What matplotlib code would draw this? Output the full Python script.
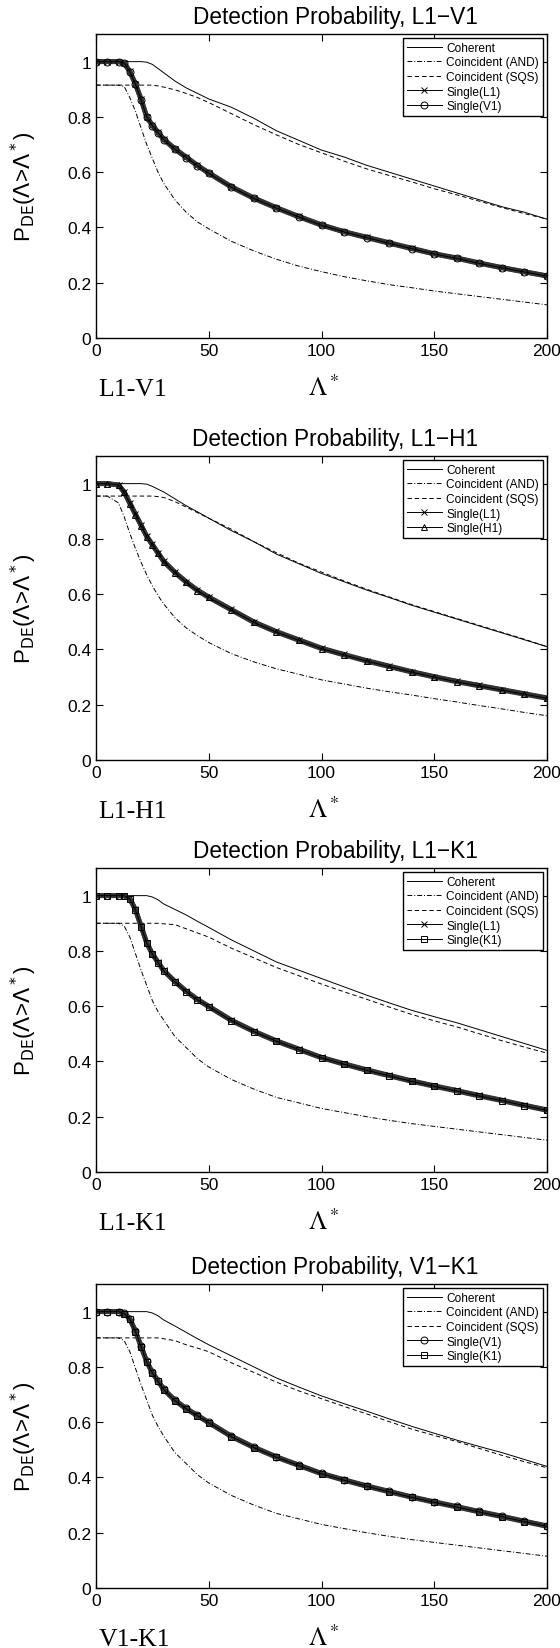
import matplotlib
matplotlib.use('Agg')
import matplotlib.pyplot as plt

plt.rcParams['font.family'] = ['Liberation Sans', 'DejaVu Sans']

# threshold Lambda* (shared x grid for all curves)
lam = [0, 5, 10, 12.5, 15, 17.5, 20, 22.5, 25, 27.5, 30, 35, 40, 45, 50,
       60, 70, 80, 90, 100, 110, 120, 130, 140, 150, 160, 170, 180, 190, 200]

# L1-V1
lv_coh = [1, 1, 1, 1, 1, 1, 1, .998, .99, .975, .96, .93, .905, .885, .865,
          .835, .795, .75, .715, .68, .655, .625, .6, .575, .55, .525, .5, .475, .455, .43]
lv_and = [.915, .915, .915, .91, .87, .82, .76, .70, .65, .60, .56, .50, .455, .42, .395,
          .35, .315, .285, .26, .24, .222, .207, .193, .182, .17, .16, .15, .14, .13, .12]
lv_sqs = [.915, .915, .915, .915, .915, .915, .915, .915, .915, .912, .908, .898, .885, .87, .852,
          .812, .772, .735, .70, .67, .64, .612, .588, .565, .54, .518, .495, .472, .45, .43]
lv_l1 = [1, 1, 1, .995, .965, .92, .865, .80, .77, .745, .72, .685, .655, .625, .598,
         .548, .507, .472, .44, .41, .385, .365, .345, .325, .305, .29, .272, .255, .24, .225]
lv_v1 = [1, 1, 1, .995, .963, .918, .862, .80, .768, .743, .718, .683, .653, .623, .596,
         .546, .505, .47, .438, .408, .384, .363, .343, .323, .304, .288, .27, .254, .239, .224]

# L1-H1
lh_coh = [1, 1, 1, 1, 1, 1, 1, .998, .99, .98, .97, .945, .92, .898, .875,
          .83, .79, .745, .71, .675, .645, .615, .588, .56, .535, .51, .485, .46, .435, .41]
lh_and = [.955, .955, .93, .88, .82, .765, .715, .67, .63, .595, .565, .515, .478, .45, .425,
          .385, .355, .33, .31, .29, .275, .26, .247, .235, .222, .21, .197, .185, .172, .16]
lh_sqs = [.955, .955, .955, .955, .955, .955, .955, .955, .955, .953, .95, .935, .915, .895, .875,
          .835, .79, .75, .712, .68, .648, .618, .59, .562, .537, .512, .487, .462, .437, .41]
lh_l1 = [1, 1, .995, .97, .93, .89, .85, .81, .78, .75, .72, .68, .645, .615, .59,
         .545, .50, .465, .435, .405, .382, .36, .34, .32, .302, .285, .27, .255, .24, .225]
lh_h1 = [1, 1, .995, .968, .928, .888, .848, .808, .778, .748, .718, .678, .643, .613, .588,
         .543, .498, .463, .433, .403, .38, .358, .338, .318, .3, .283, .268, .253, .238, .223]

# L1-K1
lk_coh = [1, 1, 1, 1, 1, 1, 1, 1, .995, .985, .97, .95, .93, .907, .885,
          .84, .80, .76, .73, .70, .67, .64, .612, .585, .562, .54, .515, .49, .465, .44]
lk_and = [.90, .90, .90, .89, .85, .79, .73, .675, .62, .58, .55, .49, .45, .41, .38,
          .335, .30, .27, .25, .23, .215, .20, .187, .175, .165, .155, .145, .135, .125, .115]
lk_sqs = [.90, .90, .90, .90, .90, .90, .90, .90, .90, .90, .898, .895, .88, .865, .85,
          .81, .775, .74, .71, .68, .652, .625, .597, .57, .547, .525, .50, .475, .452, .43]
lk_l1 = [1, 1, 1, 1, .99, .95, .89, .83, .79, .76, .73, .69, .655, .625, .60,
         .55, .51, .475, .445, .415, .392, .37, .35, .33, .312, .295, .277, .26, .242, .225]
lk_k1 = [1, 1, 1, 1, .988, .948, .888, .828, .788, .758, .728, .688, .653, .623, .598,
         .548, .508, .473, .443, .413, .39, .368, .348, .328, .31, .293, .275, .258, .24, .223]

# V1-K1
vk_coh = [1, 1, 1, 1, 1, 1, 1, 1, .995, .985, .97, .948, .925, .902, .88,
          .84, .80, .76, .727, .695, .667, .64, .612, .585, .56, .535, .512, .49, .465, .44]
vk_and = [.905, .905, .905, .895, .855, .795, .735, .68, .625, .585, .55, .49, .45, .41, .38,
          .335, .30, .27, .25, .23, .215, .20, .187, .175, .165, .155, .145, .135, .125, .115]
vk_sqs = [.905, .905, .905, .905, .905, .905, .905, .905, .905, .905, .902, .895, .88, .868, .855,
          .815, .78, .745, .713, .685, .657, .63, .602, .575, .552, .53, .505, .48, .457, .435]
vk_v1 = [1, 1, 1, .995, .975, .93, .875, .82, .78, .75, .72, .68, .65, .625, .60,
         .55, .51, .475, .445, .415, .392, .37, .35, .33, .312, .295, .277, .26, .242, .225]
vk_k1 = [1, 1, 1, .993, .973, .928, .873, .818, .778, .748, .718, .678, .648, .623, .598,
         .548, .508, .473, .443, .413, .39, .368, .348, .328, .31, .293, .275, .258, .24, .223]

panels = [
    ('L1-V1', 'L1\u2212V1', lv_coh, lv_and, lv_sqs, ('L1', lv_l1, 'x'), ('V1', lv_v1, 'o')),
    ('L1-H1', 'L1\u2212H1', lh_coh, lh_and, lh_sqs, ('L1', lh_l1, 'x'), ('H1', lh_h1, '^')),
    ('L1-K1', 'L1\u2212K1', lk_coh, lk_and, lk_sqs, ('L1', lk_l1, 'x'), ('K1', lk_k1, 's')),
    ('V1-K1', 'V1\u2212K1', vk_coh, vk_and, vk_sqs, ('V1', vk_v1, 'o'), ('K1', vk_k1, 's')),
]

W, H = 560, 1649
fig = plt.figure(figsize=(W / 100, H / 100), dpi=100)

tops = [35, 457, 869, 1285]
ax_h = 304
left, right = 96, 547

for top, (name, tname, coh, cand, csqs, s1, s2) in zip(tops, panels):
    ax = fig.add_axes([left / W, (H - top - ax_h) / H, (right - left) / W, ax_h / H])

    ax.plot(lam, coh, color='k', lw=0.7, label='Coherent')
    ax.plot(lam, cand, color='k', lw=0.7, ls=(0, (5, 2, 1, 2)), label='Coincident (AND)')
    ax.plot(lam, csqs, color='k', lw=0.7, ls=(0, (4.5, 3)), label='Coincident (SQS)')
    for det, vals, mk in (s1, s2):
        # dense band of markers in the original: thick line + open markers
        ax.plot(lam, vals, color='0.2', lw=3.5, solid_capstyle='butt')
        ax.plot(lam, vals, color='k', lw=0.7, marker=mk, ms=5, mfc='none',
                mec='k', mew=0.7, label='Single(%s)' % det)

    ax.set_xlim(0, 200)
    ax.set_ylim(0, 1.1)
    ax.set_xticks([0, 50, 100, 150, 200])
    ax.set_xticklabels(['0', '50', '100', '150', '200'])
    ax.set_yticks([0, 0.2, 0.4, 0.6, 0.8, 1.0])
    ax.set_yticklabels(['0', '0.2', '0.4', '0.6', '0.8', '1'])
    ax.tick_params(direction='in', top=True, right=True, length=5, width=0.8,
                   labelsize=12.5)
    for sp in ax.spines.values():
        sp.set_linewidth(1.0)

    ax.set_title('Detection Probability, ' + tname, fontsize=16.3, pad=8, x=0.53)
    ax.set_ylabel(r'P$_{\mathrm{DE}}$($\Lambda$>$\Lambda^*$)', fontsize=16,
                  labelpad=20)

    leg = ax.legend(loc='upper right', fontsize=8.6, frameon=True, fancybox=False,
                    edgecolor='k', framealpha=1, borderaxespad=0.35,
                    handlelength=2.9, handletextpad=0.4, labelspacing=0.22,
                    borderpad=0.3)
    leg.get_frame().set_linewidth(1.0)

    # pair name and axis symbol under the axes, in serif
    ax.text(0.005, -57 / ax_h, name, transform=ax.transAxes, fontsize=18.5,
            family='Liberation Serif', ha='left', va='baseline')
    ax.text(0.505, -57 / ax_h, r'$\Lambda^*$', transform=ax.transAxes,
            fontsize=18.5, math_fontfamily='stix', ha='center', va='baseline')

fig.savefig('out.png', dpi=100)
